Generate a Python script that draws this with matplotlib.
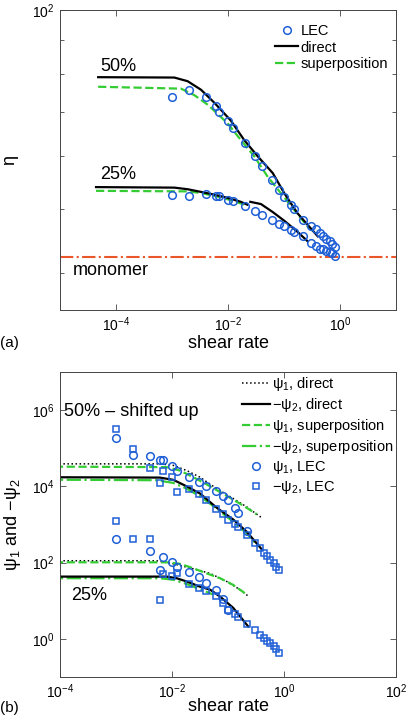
import numpy as np
import matplotlib
matplotlib.use('Agg')
import matplotlib.pyplot as plt
from matplotlib.ticker import NullLocator, NullFormatter, LogLocator
from matplotlib.lines import Line2D

plt.rcParams['font.family'] = ['Liberation Sans', 'DejaVu Sans']
plt.rcParams['mathtext.fontset'] = 'custom'
plt.rcParams['mathtext.rm'] = 'Liberation Sans'
plt.rcParams['mathtext.it'] = 'Liberation Sans:italic'
plt.rcParams['mathtext.sf'] = 'Liberation Sans'

BLUE = '#1f5fd6'
GREEN = '#33cc33'
ORANGE = '#e8562a'
AXC = '#444444'

# ---- panel (a): viscosity ----
lec_rate = [0.001, 0.002, 0.004, 0.006, 0.007, 0.01, 0.0125, 0.02, 0.03, 0.04, 0.06, 0.08,
            0.1, 0.135, 0.15, 0.22, 0.3, 0.37, 0.44, 0.5, 0.56, 0.65, 0.72, 0.8]
eta50_lec = [73.8, 75.7, 73.9, 71.6, 70.0, 67.9, 66.3, 62.8, 60.1, 58.1, 55.3, 53.4,
             52.0, 50.7, 49.9, 48.1, 47.1, 46.5, 45.9, 45.4, 45.0, 44.6, 44.2, 43.8]
eta25_lec = [52.5, 52.3, 52.7, 52.3, 52.2, 51.6, 51.3, 50.5, 49.6, 48.9, 48.1, 47.4,
             47.0, 46.4, 46.1, 45.4, 44.3, 43.9, 43.5, 43.4, 43.2, 42.9, 42.8, 42.4]

eta50_dir_rate = [4.8e-5, 1.1e-3, 1.9e-3, 3.3e-3, 5.75e-3, 1.12e-2, 1.95e-2, 3.4e-2, 6.3e-2, 0.102, 0.174, 0.40]
eta50_dir = [79.1, 79.0, 78.0, 75.7, 72.3, 68.0, 63.5, 60.0, 56.6, 52.7, 49.2, 45.4]
eta50_sup_rate = [4.8e-5, 1.45e-3, 2.5e-3, 4.4e-3, 9.9e-3, 1.7e-2, 2.95e-2, 5.1e-2, 8.9e-2, 0.151, 0.263, 0.37]
eta50_sup = [76.5, 76.0, 74.3, 71.8, 67.3, 63.5, 60.0, 55.9, 52.7, 49.8, 47.0, 45.9]

eta25_dir1_rate = [4.4e-5, 1.1e-3, 1.9e-3, 3.3e-3, 5.7e-3, 9.9e-3, 1.7e-2, 2.2e-2]
eta25_dir1 = [53.9, 53.8, 53.5, 53.0, 52.5, 51.9, 51.2, 50.7]
eta25_dir2_rate = [0.025, 0.0388, 0.063, 0.102, 0.175, 0.265]
eta25_dir2 = [51.2, 50.8, 49.4, 47.9, 46.1, 44.6]
eta25_sup_rate = [4.4e-5, 1.9e-3, 3.3e-3, 7.5e-3, 1.3e-2, 2.2e-2]
eta25_sup = [53.2, 53.1, 52.8, 52.0, 51.3, 50.5]

eta_monomer = 42.2

# ---- panel (b): normal stress coefficients ----
psi1_50_lec = [1.86e5, 6.5e4, 6.2e4, 5.0e4, 5.0e4, 3.4e4, 2.6e4, 1.8e4, 1.3e4, 1.05e4, 7.6e3, 5.5e3,
               4.3e3, 2.75e3, 2.0e3, 680]
psi2_50_lec = [3.2e5, 9.5e4, 3.0e4, 1.23e4, 2.6e4, 1.74e4, 7.1e3, 8.7e3, 6.2e3, 4.3e3, 2.6e3, 1.86e3,
               1.35e3, 1.02e3, 870, 525, 330, 240, 182, 148, 120, 95, 79, 66]
psi1_25_rate = [0.001, 0.004, 0.006, 0.007, 0.01, 0.0125, 0.02, 0.03, 0.04, 0.06, 0.08, 0.1]
psi1_25_lec = [415, 205, 65, 138, 107, 79, 58, 41, 29, 19.4, 11, 5.6]
psi2_25_lec = [1230, 415, 415, 10.6, 50, 45, 52, 28, 22, 18, 13, 8.7,
               5.8, 4.6, 3.7, 2.5, 1.75, 1.3, 1.05, 0.87, 0.76, 0.64, 0.55, 0.43]

psi1_50_dir_rate = [5e-5, 6.1e-3, 1.06e-2, 1.83e-2, 3.16e-2, 6.3e-2, 0.124, 0.215, 0.40]
psi1_50_dir = [3.9e4, 3.9e4, 3.55e4, 2.6e4, 1.74e4, 8.7e3, 4.8e3, 2.9e3, 1.5e3]
psi1_50_sup_rate = [5e-5, 8.0e-3, 1.39e-2, 2.4e-2, 4.2e-2, 7.2e-2, 0.124, 0.215, 0.325]
psi1_50_sup = [3.3e4, 3.2e4, 2.6e4, 1.74e4, 1.12e4, 7.1e3, 4.5e3, 2.75e3, 1.86e3]
psi2_50_dir_rate = [5e-5, 6.1e-3, 1.06e-2, 1.83e-2, 3.16e-2, 6.3e-2, 0.124, 0.215, 0.40]
psi2_50_dir = [1.74e4, 1.7e4, 1.48e4, 1.0e4, 6.5e3, 2.75e3, 1.35e3, 650, 224]
psi2_50_sup_rate = [5e-5, 5.3e-3, 1.06e-2, 1.83e-2, 3.16e-2, 6.3e-2, 0.124, 0.215, 0.35]
psi2_50_sup = [1.5e4, 1.45e4, 1.23e4, 8.7e3, 5.5e3, 2.6e3, 1.17e3, 590, 263]

psi1_25_dir_rate = [5e-5, 5.3e-3, 1.06e-2, 1.83e-2, 3.16e-2, 4.8e-2, 9.5e-2, 0.164, 0.24]
psi1_25_dir = [112, 112, 93, 76, 62, 52, 32, 19.5, 12.6]
psi1_25_sup_rate = [5e-5, 8.0e-3, 1.39e-2, 2.4e-2, 4.2e-2, 7.2e-2, 0.124, 0.20]
psi1_25_sup = [102, 102, 93, 71, 52, 39, 26, 15.8]
psi2_25_dir_rate = [5e-5, 8.0e-3, 1.21e-2, 1.83e-2, 3.16e-2, 4.8e-2, 7.2e-2, 0.124, 0.23]
psi2_25_dir = [43, 43, 39, 32, 23.4, 19.5, 12.9, 6.5, 2.1]
psi2_25_sup_rate = [5e-5, 6.1e-3, 1.06e-2, 1.83e-2, 3.16e-2, 5.5e-2]
psi2_25_sup = [39, 39, 35.5, 27.5, 20, 14.5]


def style_axes(ax):
    for s in ax.spines.values():
        s.set_color(AXC)
        s.set_linewidth(0.7)
    ax.tick_params(which='both', direction='in', top=True, right=True,
                   color=AXC, width=0.6, labelsize=10, pad=4)
    ax.tick_params(which='major', length=4)
    ax.tick_params(which='minor', length=3)


fig = plt.figure(figsize=(4.08, 7.16), dpi=100)

# ---------------- (a) ----------------
ax1 = fig.add_axes([60/408, (716-310)/716, 336/408, 300/716])
ax1.set_xscale('log')
ax1.set_yscale('log')
ax1.axhline(eta_monomer, color=ORANGE, ls='-.', lw=1.5)
ax1.plot(eta50_sup_rate, eta50_sup, color=GREEN, ls='--', lw=1.6)
ax1.plot(eta25_sup_rate, eta25_sup, color=GREEN, ls='--', lw=1.6)
ax1.plot(eta50_dir_rate, eta50_dir, color='k', lw=1.6)
ax1.plot(eta25_dir1_rate, eta25_dir1, color='k', lw=1.6)
ax1.plot(eta25_dir2_rate, eta25_dir2, color='k', lw=1.6)
ax1.plot(lec_rate, eta50_lec, 'o', mfc='none', mec=BLUE, ms=5.5, mew=1.1)
ax1.plot(lec_rate, eta25_lec, 'o', mfc='none', mec=BLUE, ms=5.5, mew=1.1)
ax1.set_xlim(1e-5, 1e1)
ax1.set_ylim(35.1, 100)
ax1.set_xticks([1e-4, 1e-2, 1e0])
ax1.xaxis.set_minor_locator(NullLocator())
ax1.yaxis.set_major_locator(LogLocator(base=10))
ax1.yaxis.set_minor_locator(LogLocator(base=10, subs=np.arange(2, 10)))
ax1.yaxis.set_minor_formatter(NullFormatter())
style_axes(ax1)
ax1.set_xlabel('shear rate', fontsize=13)
ax1.xaxis.set_label_coords(0.5, -0.085)
ax1.set_ylabel('η', fontsize=13)
ax1.yaxis.set_label_coords(-0.125, 0.5)
ax1.text(0.119, 0.813, '50%', transform=ax1.transAxes, fontsize=13, va='center')
ax1.text(0.119, 0.453, '25%', transform=ax1.transAxes, fontsize=13, va='center')
ax1.text(0.038, 0.133, 'monomer', transform=ax1.transAxes, fontsize=13, va='center')
h1 = [Line2D([], [], ls='none', marker='o', mfc='none', mec=BLUE, ms=5.5, mew=1.1),
      Line2D([], [], color='k', lw=1.6),
      Line2D([], [], color=GREEN, ls='--', lw=1.6)]
ax1.legend(h1, ['LEC', 'direct', 'superposition'], loc='upper left',
           bbox_to_anchor=(0.64, 0.952), frameon=False, fontsize=10.5,
           handlelength=1.6, handletextpad=0.15, borderpad=0, borderaxespad=0,
           labelspacing=0.15)
fig.text(0.0, 0.515, '(a)', fontsize=11)

# ---------------- (b) ----------------
ax2 = fig.add_axes([60/408, (716-677)/716, 336/408, 305/716])
ax2.set_xscale('log')
ax2.set_yscale('log')
ax2.plot(psi1_50_dir_rate, psi1_50_dir, color='k', ls=':', lw=1.1)
ax2.plot(psi1_25_dir_rate, psi1_25_dir, color='k', ls=':', lw=1.1)
ax2.plot(psi1_50_sup_rate, psi1_50_sup, color=GREEN, ls='--', lw=1.6)
ax2.plot(psi1_25_sup_rate, psi1_25_sup, color=GREEN, ls='--', lw=1.6)
ax2.plot(psi2_50_sup_rate, psi2_50_sup, color=GREEN, ls='-.', lw=1.6)
ax2.plot(psi2_25_sup_rate, psi2_25_sup, color=GREEN, ls='-.', lw=1.6)
ax2.plot(psi2_50_dir_rate, psi2_50_dir, color='k', lw=1.6)
ax2.plot(psi2_25_dir_rate, psi2_25_dir, color='k', lw=1.6)
ax2.plot(lec_rate[:len(psi1_50_lec)], psi1_50_lec, 'o', mfc='none', mec=BLUE, ms=5.5, mew=1.1)
ax2.plot(psi1_25_rate, psi1_25_lec, 'o', mfc='none', mec=BLUE, ms=5.5, mew=1.1)
ax2.plot(lec_rate, psi2_50_lec, 's', mfc='none', mec=BLUE, ms=5, mew=1.1)
ax2.plot(lec_rate, psi2_25_lec, 's', mfc='none', mec=BLUE, ms=5, mew=1.1)
ax2.set_xlim(1e-4, 1e2)
ax2.set_ylim(1e-1, 1e7)
ax2.set_xticks([1e-4, 1e-2, 1e0, 1e2])
ax2.set_yticks([1e0, 1e2, 1e4, 1e6])
ax2.xaxis.set_minor_locator(NullLocator())
ax2.yaxis.set_minor_locator(NullLocator())
style_axes(ax2)
ax2.set_xlabel('shear rate', fontsize=13)
ax2.xaxis.set_label_coords(0.5, -0.068)
ax2.set_ylabel('ψ$_1$ and −ψ$_2$', fontsize=13)
ax2.yaxis.set_label_coords(-0.11, 0.5)
ax2.text(0.013, 0.869, '50% – shifted up', transform=ax2.transAxes, fontsize=13, va='center')
ax2.text(0.033, 0.266, '25%', transform=ax2.transAxes, fontsize=13, va='center')
h2 = [Line2D([], [], color='k', ls=':', lw=1.1),
      Line2D([], [], color='k', lw=1.6),
      Line2D([], [], color=GREEN, ls='--', lw=1.6),
      Line2D([], [], color=GREEN, ls='-.', lw=1.6),
      Line2D([], [], ls='none', marker='o', mfc='none', mec=BLUE, ms=5.5, mew=1.1),
      Line2D([], [], ls='none', marker='s', mfc='none', mec=BLUE, ms=5, mew=1.1)]
labels2 = ['ψ$_1$, direct', '−ψ$_2$, direct', 'ψ$_1$, superposition',
           '−ψ$_2$, superposition', 'ψ$_1$, LEC', '−ψ$_2$, LEC']
ax2.legend(h2, labels2, loc='upper left', bbox_to_anchor=(0.542, 0.99),
           frameon=False, fontsize=10.5, handlelength=1.9, handletextpad=0.15,
           borderpad=0, borderaxespad=0, labelspacing=0.2)
fig.text(0.0, 0.005, '(b)', fontsize=11)

plt.savefig('out.png', dpi=100)
